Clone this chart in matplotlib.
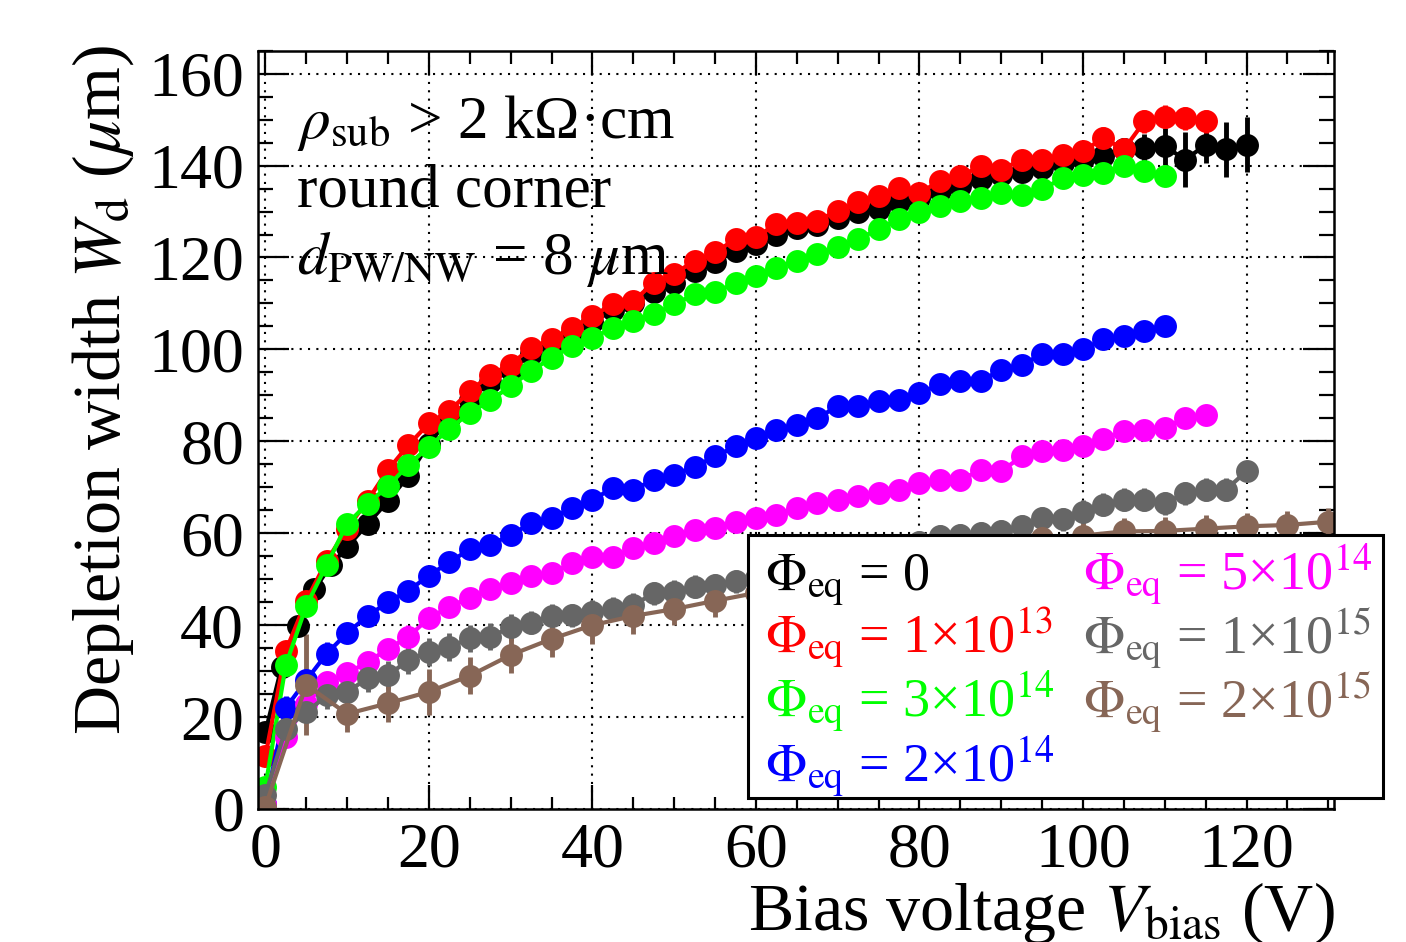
import numpy as np
import matplotlib
matplotlib.use("Agg")
import matplotlib.pyplot as plt
from matplotlib.patches import Rectangle
from matplotlib.ticker import MultipleLocator

plt.rcParams['font.family'] = ['Liberation Serif', 'DejaVu Serif']
plt.rcParams['mathtext.fontset'] = 'stix'

# bias voltage steps (V)
v_black = [0, 2, 4, 6, 8, 10] + list(np.arange(12.5, 120.1, 2.5))
v_red = np.arange(0, 115.1, 2.5)
v_green = np.arange(0, 110.1, 2.5)
v_blue = np.arange(0, 110.1, 2.5)
v_magenta = np.arange(0, 115.1, 2.5)
v_gray = np.arange(0, 120.1, 2.5)
v_brown = np.arange(0, 130.1, 5)

# depletion width (um)
w_black = [16.7, 31, 39.8, 47.8, 53, 57, 62, 67, 72.5, 79.5, 85, 89, 93, 95.5, 99, 101,
           103.5, 106, 108.5, 110, 112.5, 114.5, 117, 119, 121.5, 123, 125, 126.5, 127,
           128.5, 130, 130.5, 132, 133, 134.5, 135.5, 137, 138, 138.5, 139.5, 140.5,
           141.5, 142, 143.5, 143.8, 144.2, 141.3, 144.5, 143.5, 144.5]
e_black = [1, 1, 1, 2, 1, 1, 1, 1, 1, 1, 1, 1, 1, 1, 1, 1, 1, 1, 1, 1, 1, 1, 1, 1, 1,
           1, 1, 1, 1, 1, 1, 1, 1, 1, 1, 1, 1, 1.5, 1.5, 1.5, 1.5, 1.5, 2, 2, 3, 4, 6,
           4, 6, 6]
w_red = [11.5, 34.4, 45.3, 54, 61, 67.1, 73.8, 79.2, 83.9, 86.6, 90.9, 94.5, 96.7, 100.4,
         102.2, 104.7, 107.3, 109.8, 110.5, 114.5, 116.4, 119.3, 121.1, 124, 124.4, 127.3,
         127.6, 128, 130.2, 132, 133.3, 135.2, 134.1, 136.6, 137.7, 139.9, 139.1, 141.3,
         141.3, 142.4, 143.1, 146, 143.5, 149.6, 150.6, 150.3, 149.6]
e_red = [1.5] * 30 + [2] * 11 + [2.5] * 6
w_green = [4.8, 31.3, 44.2, 53.1, 62.1, 66.4, 70.2, 74.9, 78.8, 82.7, 86.2, 88.9, 92,
           95.3, 98.2, 100.7, 102.5, 104.7, 106.2, 107.6, 109.8, 112, 112.4, 114.5, 116,
           117.8, 119.3, 120.7, 122.2, 124, 126.2, 128.3, 129.8, 131.2, 132.3, 133, 134.1,
           133.7, 134.8, 137.3, 138, 138.4, 139.9, 138.8, 137.7]
e_green = [1.5] * 45
w_blue = [1, 22, 28, 33.8, 38.3, 42, 45, 47.5, 50.8, 53.7, 56.5, 57.5, 59.6, 62.2, 63.3,
          65.5, 67.3, 69.8, 69.5, 71.6, 72.7, 74.5, 76.7, 78.9, 80.7, 82.5, 83.6, 85.1,
          87.6, 87.6, 88.7, 89.1, 90.5, 92.4, 93.1, 93.1, 95.6, 96.7, 98.9, 98.9, 100,
          102.2, 102.9, 104, 105.1]
e_blue = [1, 2.5, 2, 2.5, 2] + [1.5] * 40
w_magenta = [1, 15.6, 22.9, 27.6, 29.5, 32, 34.8, 37.5, 41.5, 44, 46, 47.8, 49.1, 50.7,
             51.3, 53.5, 54.9, 54.9, 56.7, 57.8, 59.3, 60.7, 61.1, 62.5, 63.3, 64, 65.5,
             66.5, 67.3, 68, 68.7, 69.5, 70.9, 71.6, 71.6, 73.8, 73.5, 76.7, 77.8, 78.2,
             78.9, 80.4, 82.2, 82.5, 82.9, 85.1, 85.8]
e_magenta = [1, 1.5, 1.5, 2, 2, 2, 2, 2.5, 2] + [1.5] * 38
w_gray = [3, 17.5, 21, 24.7, 25.5, 28.4, 29.1, 32.4, 34.2, 35.3, 37.1, 37.5, 39.5, 40.5,
          42, 42.2, 42.9, 43.6, 44.4, 46.9, 47.3, 48.4, 48.7, 49.5, 50.2, 51, 52, 53, 54,
          55, 56, 57, 58, 59.3, 59.6, 60, 60.4, 61.5, 63.3, 63, 64.7, 66.2, 67.3, 67.3,
          66.5, 68.7, 69.5, 69.5, 73.5]
e_gray = [1, 2, 2, 3, 3, 3, 3, 3, 3, 3, 3, 3, 3, 2.5, 2.5, 2.5, 2.5, 2.5, 2.5, 2.5, 2.5,
          2.5, 2.5, 2.5, 2.5, 2.5, 2.5, 2.5, 2.5, 2.5, 2.5, 2.5, 2.5, 2.5, 2.5, 2.5, 2.5,
          2.5, 2.5, 2.5, 2.5, 2.5, 2.5, 2.5, 2.5, 2.5, 2.5, 2.5, 2]
w_brown = [0.5, 27, 20.7, 23, 25.5, 29, 33.5, 37, 40, 42, 43.5, 45.3, 47, 49, 51, 52.5,
           54, 55.5, 57, 59, 59.5, 60.4, 60.5, 61, 61.5, 61.8, 62.5]
e_brown = [1, 11, 4, 4, 5, 4, 4, 4, 4, 4, 3.5, 3.5, 3.5, 3, 3, 3, 3, 3, 3, 3, 3, 3, 3,
           3, 3, 3, 3]

series = [
    (v_black, w_black, e_black, '#000000'),
    (v_red, w_red, e_red, '#ff0000'),
    (v_green, w_green, e_green, '#00ff00'),
    (v_blue, w_blue, e_blue, '#0000ff'),
    (v_magenta, w_magenta, e_magenta, '#ff00ff'),
    (v_gray, w_gray, e_gray, '#666666'),
    (v_brown, w_brown, e_brown, '#876656'),
]

legend_labels = [r'$\Phi_{\rm eq}$ = 0', r'$\Phi_{\rm eq}$ = 1×10$^{13}$',
                 r'$\Phi_{\rm eq}$ = 3×10$^{14}$', r'$\Phi_{\rm eq}$ = 2×10$^{14}$',
                 r'$\Phi_{\rm eq}$ = 5×10$^{14}$', r'$\Phi_{\rm eq}$ = 1×10$^{15}$',
                 r'$\Phi_{\rm eq}$ = 2×10$^{15}$']
legend_colors = ['#000000', '#ff0000', '#00ff00', '#0000ff', '#ff00ff', '#666666', '#876656']

fig = plt.figure(figsize=(14.06, 9.42), dpi=100)
ax = fig.add_axes([0.1835, 0.1412, 0.7653, 0.805])

for v, w, e, c in series:
    ax.errorbar(v, w, yerr=e, fmt='o-', color=c, ms=16.5, mew=0, lw=3,
                elinewidth=3.5, capsize=3, capthick=2)

ax.set_xlim(-0.9, 130.7)
ax.set_ylim(0, 165)
ax.xaxis.set_major_locator(MultipleLocator(20))
ax.xaxis.set_minor_locator(MultipleLocator(5))
ax.yaxis.set_major_locator(MultipleLocator(20))
ax.yaxis.set_minor_locator(MultipleLocator(5))
ax.tick_params(which='both', direction='in', top=True, right=True, width=1.6, labelsize=46)
ax.tick_params(axis='x', which='major', length=17, pad=10)
ax.tick_params(axis='x', which='minor', length=9)
ax.tick_params(axis='y', which='major', length=22, pad=10)
ax.tick_params(axis='y', which='minor', length=11)
ax.grid(True, which='major', color='black', linestyle=(0, (1, 3)), linewidth=1.5)
ax.set_axisbelow(True)
for s in ax.spines.values():
    s.set_linewidth(1.8)

# annotation
ax.text(0.036, 0.885, r'$\rho_{\rm sub}$ > 2 kΩ·cm', transform=ax.transAxes, fontsize=44)
ax.text(0.036, 0.795, 'round corner', transform=ax.transAxes, fontsize=44)
ax.text(0.036, 0.705, r'$d_{\rm PW/NW}$ = 8 $\mu$m', transform=ax.transAxes, fontsize=44)

# axis titles
fig.text(1335 / 1406, 1 - 930 / 942, r'Bias voltage $V_{\rm bias}$ (V)', fontsize=49,
         ha='right', va='baseline')
fig.text(120 / 1406, 1 - 45 / 942, r'Depletion width $W_{\rm d}$ ($\mu$m)', fontsize=49,
         rotation=90, rotation_mode='anchor', ha='right', va='baseline')

# legend box
rect = Rectangle((748 / 1406, 1 - 798 / 942), 635 / 1406, 263 / 942,
                 transform=fig.transFigure, facecolor='white', edgecolor='black',
                 lw=2.2, zorder=10)
fig.add_artist(rect)
col_x = [765 / 1406, 1083 / 1406]
row_y = [1 - 590 / 942, 1 - 653 / 942, 1 - 717 / 942, 1 - 782 / 942]
pos = [(0, 0), (0, 1), (0, 2), (0, 3), (1, 0), (1, 1), (1, 2)]
for (ci, ri), lab, c in zip(pos, legend_labels, legend_colors):
    fig.text(col_x[ci], row_y[ri], lab, color=c, fontsize=39, va='baseline', zorder=11)

fig.savefig('out.png', dpi=100)
